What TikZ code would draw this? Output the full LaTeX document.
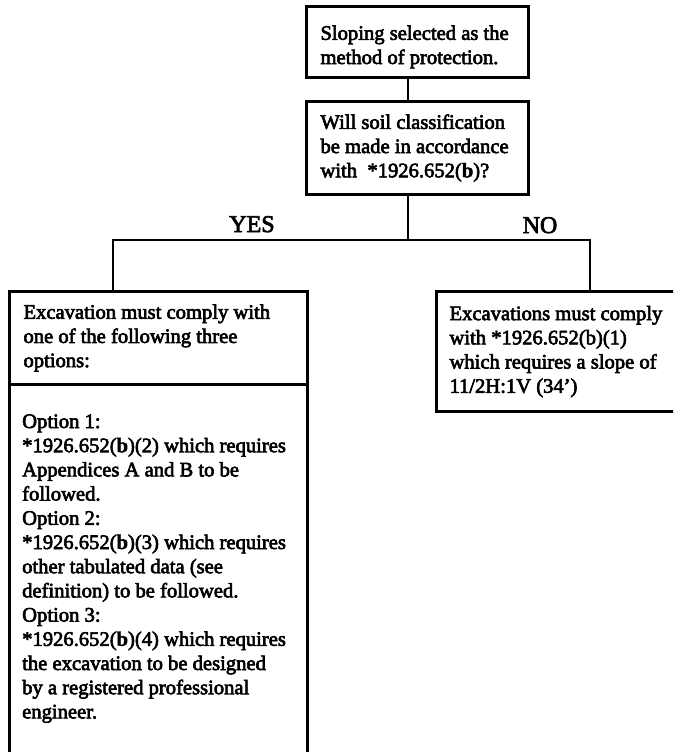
\documentclass[tikz,border=0pt]{standalone}
\usepackage{fontspec}
\setmainfont{Liberation Serif}[UprightFeatures={FakeBold=3},BoldFeatures={FakeBold=2}]
\usetikzlibrary{calc}
\newcommand\mybodyfont{\fontsize{20.6}{24.2}\selectfont}
\newcommand\mylabfont{\fontsize{24}{28}\selectfont}
\begin{document}
\begin{tikzpicture}[x=1pt,y=-1pt,
  box/.style={draw, line width=3pt, anchor=north west, inner xsep=14pt, inner ysep=0pt, align=flush left, font=\mybodyfont},
  txt/.style={inner sep=0pt, align=flush left, font=\mybodyfont},
  lab/.style={inner sep=0pt, font=\mylabfont},
  conn/.style={line width=2pt}]
\useasboundingbox (0,0) rectangle (673,752);
\clip (0,0) rectangle (673,752);
% boxes
\node[box, minimum width=222pt, minimum height=71pt, text width=194pt] (b1) at (305,5)
  {\rule{0pt}{24.2pt}Sloping selected as the\\ method of protection.};
\node[box, minimum width=222pt, minimum height=93pt, text width=194pt] (b2) at (305,100)
  {Will soil classification\\ be made in accordance\\ with\ \ *1926.652(\textbf{b})?};
\node[box, minimum width=298pt, minimum height=93pt, text width=270pt] (opth) at (8,290)
  {Excavation must comply with\\ one of the following three\\ options:};
\node[box, minimum width=298pt, minimum height=450pt] (optb) at (8,383) {};
\node[txt, text width=280pt, anchor=base west] (optt) at ($(optb.north west)+(14,45)$)
  {Option 1:\\{}
   *1926.652(\textbf{b})(2) which requires\\
   Appendices A and B to be\\
   followed.\\
   Option 2:\\{}
   *1926.652(\textbf{b})(3) which requires\\
   other tabulated data (see\\
   definition) to be followed.\\
   Option 3:\\{}
   *1926.652(\textbf{b})(4) which requires\\
   the excavation to be designed\\
   by a registered professional\\
   engineer.};
\node[box, inner xsep=13pt, minimum width=262pt, minimum height=120pt, text width=236pt] (b4) at (435,290)
  {Excavations must comply\\ with *1926.652(b)(1)\\ which requires a slope of\\ 11/2H:1V (34’)};
% labels
\node[lab, anchor=base] (yes) at (252,232) {YES};
\node[lab, anchor=base] (no) at (540,233) {NO};
% connectors
\coordinate (jn) at (408,240);
\coordinate (jl) at (113,240);
\coordinate (jr) at (590,240);
\draw[conn] (b1.south -| jn) -- (b2.north -| jn);
\draw[conn] (b2.south -| jn) -- (jn);
\draw[conn] (opth.north -| jl) |- (jr) -- (b4.north -| jr);
\end{tikzpicture}
\end{document}
